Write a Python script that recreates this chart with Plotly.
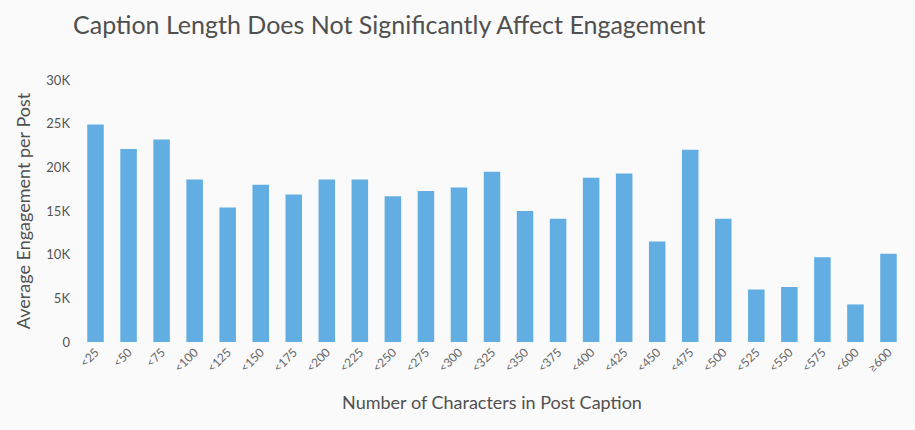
import plotly.graph_objects as go

categories = ["<25", "<50", "<75", "<100", "<125", "<150", "<175", "<200", "<225", "<250",
              "<275", "<300", "<325", "<350", "<375", "<400", "<425", "<450", "<475", "<500",
              "<525", "<550", "<575", "<600", "≥600"]
engagement = [24900, 22100, 23200, 18600, 15400, 18000, 16900, 18600, 18600, 16700,
              17300, 17700, 19500, 15000, 14100, 18800, 19300, 11500, 22000, 14100,
              6000, 6300, 9700, 4300, 10100]
y_tickvals = [0, 5000, 10000, 15000, 20000, 25000, 30000]
y_ticktext = ["0", "5K", "10K", "15K", "20K", "25K", "30K"]

bg = "#fafafa"
fig = go.Figure(go.Bar(x=categories, y=engagement, marker_color="#62AEE2",
                       marker_line_width=0, width=0.5))

fig.update_layout(
    width=915, height=430,
    paper_bgcolor=bg, plot_bgcolor=bg,
    margin=dict(l=79, r=10, t=80, b=88),
    font=dict(family="Lato", color="#555555"),
    title=dict(text="Caption Length Does Not Significantly Affect Engagement",
               font=dict(family="Lato", size=25, color="#505050"),
               x=73/915, xanchor="left", xref="container",
               y=1-25/430, yanchor="middle", yref="container"),
    showlegend=False,
    bargap=0.5,
)
fig.update_xaxes(showgrid=False, zeroline=False, showline=False,
                 tickangle=-45, tickfont=dict(size=12, color="#666666"),
                 title=dict(text="Number of Characters in Post Caption",
                            font=dict(size=18, color="#505050"), standoff=22))
fig.update_yaxes(range=[0, 30000], showgrid=False, zeroline=False, showline=False,
                 tickvals=y_tickvals, ticktext=y_ticktext,
                 tickfont=dict(size=13, color="#555555"), ticklabelstandoff=8,
                 title=dict(text="Average Engagement per Post",
                            font=dict(size=18, color="#505050"), standoff=10))

fig.write_html("out.html", config={"displayModeBar": False},
               post_script="document.body.style.margin='0';document.body.style.background='#fafafa';")
